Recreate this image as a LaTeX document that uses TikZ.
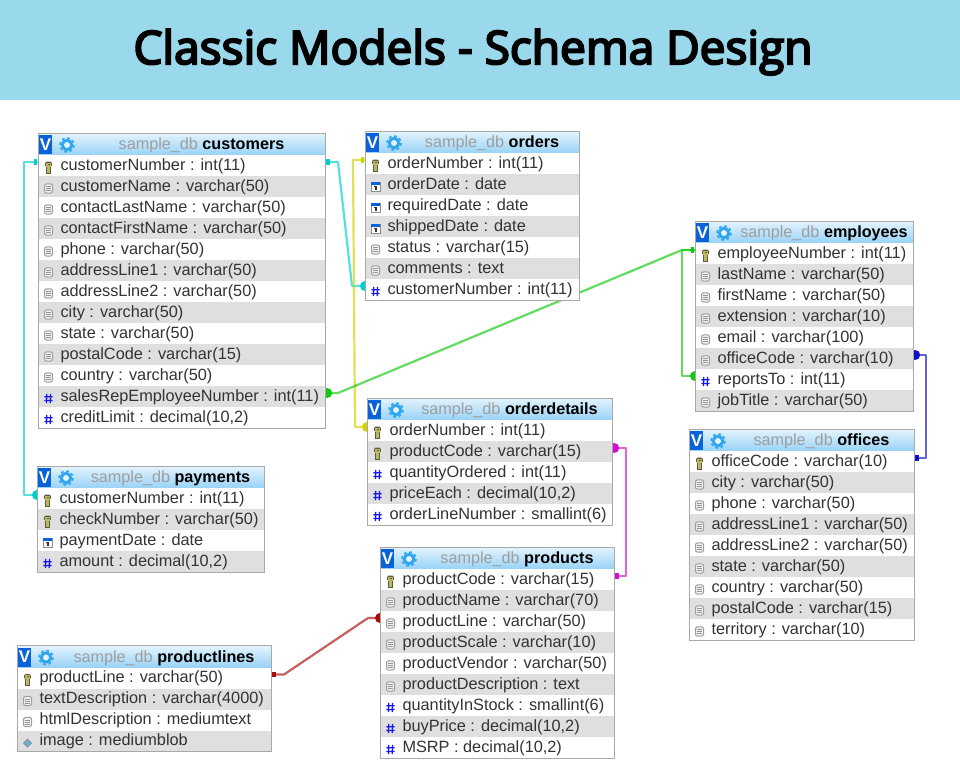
\documentclass[tikz,border=0pt]{standalone}
\usepackage{fontspec}
\setmainfont{Liberation Sans}
\newfontfamily\titlefont[FakeBold=4.5]{Open Sans}
\usetikzlibrary{backgrounds,calc}
\definecolor{band}{HTML}{9AD8EC}
\definecolor{rowgray}{HTML}{DFDFDF}
\definecolor{edge}{HTML}{A8A8A8}
\definecolor{rowtext}{HTML}{333333}
\definecolor{hashblue}{HTML}{1818F0}
\definecolor{vblue}{HTML}{0A62D8}
\definecolor{gearblue}{HTML}{2FA5F0}
\definecolor{HeadTop}{HTML}{E4F4FD}
\definecolor{HeadBot}{HTML}{98D2F6}
\definecolor{keyfill}{HTML}{BDB85E}
\definecolor{keydark}{HTML}{5A5A48}
\definecolor{relcyan}{HTML}{00CFCF}
\definecolor{relyellow}{HTML}{D2D200}
\definecolor{relgreen}{HTML}{10C810}
\definecolor{relblue}{HTML}{1010C8}
\definecolor{relmag}{HTML}{CC10CC}
\definecolor{relred}{HTML}{A80C0C}
\tikzset{
  x=1pt,y=-1pt,
  rowtxt/.style={inner sep=0pt,anchor=base west,text=rowtext,font=\fontsize{16.3}{18}\selectfont},
  rowcell/.style={minimum height=21pt,inner sep=0pt,outer sep=0pt,anchor=north west},
  tableframe/.style={draw=edge,line width=1pt},
  rel/.style={line width=2.2pt,line join=round,draw opacity=.66},
  headtitle/.style={font=\fontsize{16.2}{18}\selectfont,inner sep=0pt,anchor=base},
}
\newcommand{\iconkey}[1]{%
  \fill[keydark,rounded corners=1.5pt] ($(#1)+(-3.4,-6)$) rectangle ($(#1)+(3.4,-.5)$);
  \fill[keydark] ($(#1)+(-2.4,-.8)$) rectangle ($(#1)+(2.6,6)$);
  \fill[keyfill] ($(#1)+(-2.4,-5)$) rectangle ($(#1)+(2.4,-1)$);
  \fill[keyfill] ($(#1)+(-1.3,-1)$) rectangle ($(#1)+(1.3,5.2)$);
  \fill[keydark] ($(#1)+(-1,-3.8)$) rectangle ($(#1)+(1,-2.6)$);}
\newcommand{\icondoc}[1]{%
  \draw[black!38,fill=black!6,line width=1pt,rounded corners=2pt] ($(#1)+(-4,-4.6)$) rectangle ($(#1)+(4,4.6)$);
  \draw[black!42,line width=.8pt] ($(#1)+(-2.2,-1.8)$) -- ($(#1)+(2.2,-1.8)$) ($(#1)+(-2.2,.2)$) -- ($(#1)+(2.2,.2)$) ($(#1)+(-2.2,2.2)$) -- ($(#1)+(2.2,2.2)$);}
\newcommand{\iconhash}[1]{%
  \draw[hashblue,line width=1.3pt] ($(#1)+(-1.7,-4.6)$) -- ($(#1)+(-2.1,4.6)$) ($(#1)+(2.1,-4.6)$) -- ($(#1)+(1.7,4.6)$) ($(#1)+(-4.2,-1.7)$) -- ($(#1)+(4.2,-1.7)$) ($(#1)+(-4.2,2)$) -- ($(#1)+(4.2,2)$);}
\newcommand{\icondate}[1]{%
  \draw[black!45,fill=white,line width=.8pt] ($(#1)+(-4.5,-4.5)$) rectangle ($(#1)+(4.5,4.5)$);
  \fill[vblue] ($(#1)+(-4.5,-4.5)$) rectangle ($(#1)+(4.5,-2)$);
  \fill[black!80] ($(#1)+(-.3,-1)$) rectangle ($(#1)+(1,3)$);
  \fill[black!80] ($(#1)+(-1.3,-.6)$) rectangle ($(#1)+(1,.4)$);}
\newcommand{\iconblob}[1]{%
  \fill[black!45] ($(#1)+(-4.5,0)$) -- ($(#1)+(0,-4.5)$) -- ($(#1)+(4.5,0)$) -- ($(#1)+(0,4.5)$) -- cycle;
  \fill[cyan!60!teal!70] ($(#1)+(-3,0)$) -- ($(#1)+(0,-3)$) -- ($(#1)+(3,0)$) -- ($(#1)+(0,3)$) -- cycle;}
\newcommand{\tablebox}[6]{%
  \pgfmathsetmacro\tcx{#2+(#4+40)/2}%
  \node[rowcell,minimum width=#4pt,minimum height=22pt,top color=HeadTop,bottom color=HeadBot] (#1-head) at (#2,#3) {};
  \fill[vblue] (#2+1,#3+2) rectangle (#2+14,#3+21);
  \node[inner sep=0pt,text=white,font=\bfseries\fontsize{17}{17}\selectfont] (#1-v) at (#2+7.5,#3+11.5) {V};
  \fill[gearblue] (#2+29,#3+12) circle[radius=6];
  \draw[gearblue,line width=1.6pt,dash pattern=on 2.75pt off 2.75pt] (#2+29,#3+12) circle[radius=7];
  \fill[HeadTop] (#2+29,#3+12) circle[radius=3];
  \node[headtitle] (#1-title) at (\tcx,#3+16.5) {\textcolor{black!38}{sample\_db} \textbf{\textcolor{black}{#5}}};
  \foreach \kind/\txt [count=\n] in {#6} {
    \pgfmathsetmacro\ry{#3+22+(\n-1)*21}
    \pgfmathtruncatemacro\even{mod(\n,2)==0}
    \ifnum\even=1
      \node[rowcell,minimum width=#4pt,fill=rowgray] (#1-\n) at (#2,\ry) {};
    \else
      \node[rowcell,minimum width=#4pt,fill=white] (#1-\n) at (#2,\ry) {};
    \fi
    \coordinate (ic) at (#2+10.5,\ry+12.5);
    \csname icon\kind\endcsname{ic}
    \node[rowtxt] (#1-\n-t) at (#2+22.3,\ry+15.2) {\txt};
  }
  \pgfmathsetmacro\bot{#3+22+21*\rowcount}
  \draw[tableframe] (#2,#3) rectangle (#2+#4,\bot);
}
% colour, key end, disc end, stub at key end, stub at disc end, rectangle length
\newcommand{\relation}[6]{%
  \coordinate (rA) at ([yshift=3.5pt]#2);
  \coordinate (rB) at ([yshift=3.5pt]#3);
  \draw[rel,draw=#1] (rA) -- ++(#4,0) -- ($(rB)+(#5,0)$) -- (rB);
  \fill[#1] ($(rA)+(-1,-2.7)$) rectangle ($(rA)+(#6,2.7)$);
  \pgfmathsetmacro\discshift{ifthenelse(#5>0,2.2,0)}
  \fill[#1] ($(rB)+(\discshift,0)$) circle[radius=5];
}
\begin{document}
\begin{tikzpicture}
\useasboundingbox (0,0) rectangle (960,776);
\fill[band] (0,0) rectangle (960,100);
\node[inner sep=0pt,anchor=base,font=\titlefont\fontsize{46}{48}\selectfont,text=black] (title) at (473,64) {Classic Models - Schema Design};

\def\rowcount{13}
\tablebox{customers}{38}{133}{287}{customers}{key/customerNumber : int(11),doc/customerName : varchar(50),doc/contactLastName : varchar(50),doc/contactFirstName : varchar(50),doc/phone : varchar(50),doc/addressLine1 : varchar(50),doc/addressLine2 : varchar(50),doc/city : varchar(50),doc/state : varchar(50),doc/postalCode : varchar(15),doc/country : varchar(50),hash/salesRepEmployeeNumber : int(11),hash/creditLimit : decimal(10{,}2)}
\def\rowcount{7}
\tablebox{orders}{365}{131}{214}{orders}{key/orderNumber : int(11),date/orderDate : date,date/requiredDate : date,date/shippedDate : date,doc/status : varchar(15),doc/comments : text,hash/customerNumber : int(11)}
\def\rowcount{8}
\tablebox{employees}{695}{221}{218}{employees}{key/employeeNumber : int(11),doc/lastName : varchar(50),doc/firstName : varchar(50),doc/extension : varchar(10),doc/email : varchar(100),doc/officeCode : varchar(10),hash/reportsTo : int(11),doc/jobTitle : varchar(50)}
\def\rowcount{9}
\tablebox{offices}{689}{429}{225}{offices}{key/officeCode : varchar(10),doc/city : varchar(50),doc/phone : varchar(50),doc/addressLine1 : varchar(50),doc/addressLine2 : varchar(50),doc/state : varchar(50),doc/country : varchar(50),doc/postalCode : varchar(15),doc/territory : varchar(10)}
\def\rowcount{5}
\tablebox{orderdetails}{367}{398}{245}{orderdetails}{key/orderNumber : int(11),key/productCode : varchar(15),hash/quantityOrdered : int(11),hash/priceEach : decimal(10{,}2),hash/orderLineNumber : smallint(6)}
\def\rowcount{9}
\tablebox{products}{380}{547}{234}{products}{key/productCode : varchar(15),doc/productName : varchar(70),doc/productLine : varchar(50),doc/productScale : varchar(10),doc/productVendor : varchar(50),doc/productDescription : text,hash/quantityInStock : smallint(6),hash/buyPrice : decimal(10{,}2),hash/MSRP : decimal(10{,}2)}
\def\rowcount{4}
\tablebox{payments}{37}{466}{227}{payments}{key/customerNumber : int(11),key/checkNumber : varchar(50),date/paymentDate : date,hash/amount : decimal(10{,}2)}
\def\rowcount{4}
\tablebox{productlines}{17}{645.5}{254}{productlines}{key/productLine : varchar(50),doc/textDescription : varchar(4000),doc/htmlDescription : mediumtext,blob/image : mediumblob}

\begin{scope}[on background layer]
  \relation{relcyan}{customers-1.east}{orders-7.west}{13}{-13}{5}
  \relation{relcyan}{customers-1.west}{payments-1.west}{-14}{-13}{-4}
  \relation{relyellow}{orders-1.west}{orderdetails-1.west}{-12}{-12}{-4}
  \relation{relgreen}{employees-1.west}{customers-12.east}{-13}{13}{-4}
  \relation{relgreen}{employees-1.west}{employees-7.west}{-13}{-13}{-4}
  \relation{relblue}{offices-1.east}{employees-6.east}{12}{13}{5}
  \relation{relmag}{products-1.east}{orderdetails-2.east}{12}{14}{5}
  \relation{relred}{productlines-1.east}{products-3.west}{13}{-12}{5}
\end{scope}
\end{tikzpicture}
\end{document}
